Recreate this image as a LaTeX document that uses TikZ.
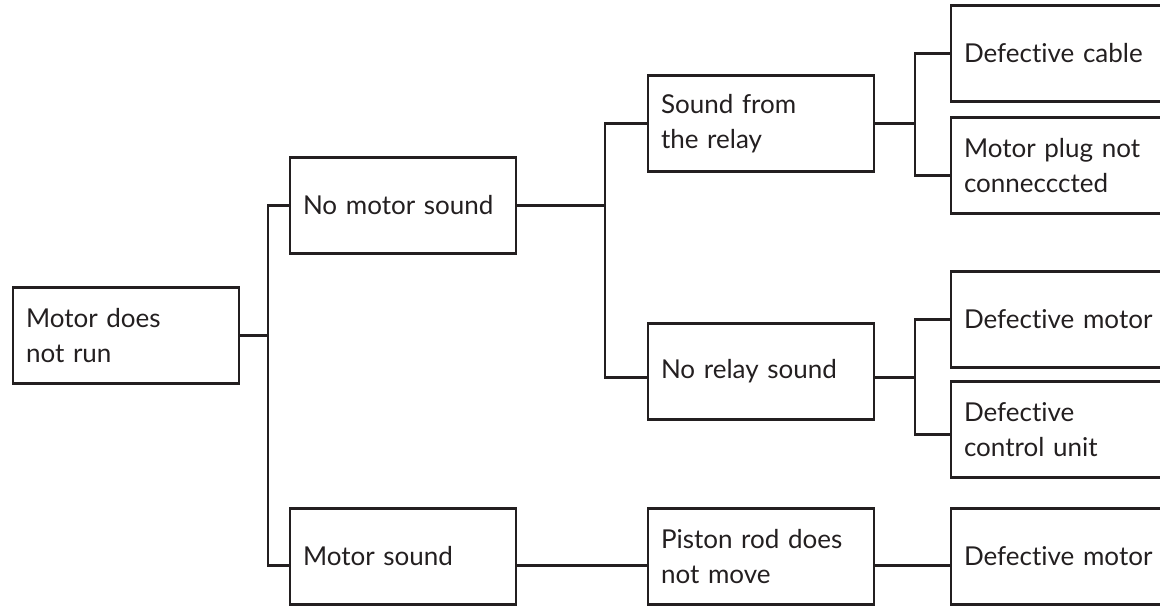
\documentclass[tikz,border=0pt]{standalone}
\usepackage{fontspec}
\setmainfont{Lato}[Ligatures=NoCommon]
\usepackage{tikz}
\usetikzlibrary{positioning}

\definecolor{ink}{HTML}{231F20}

\begin{document}
\begin{tikzpicture}[
	x = 0.5pt, y = -0.5pt, % one unit = one pixel of the sketch
	line width = 1.2pt, % line style
	color = ink,
	font = \fontsize{13}{17.5}\selectfont
	]
	
	\tikzstyle{fault}=[
	draw = ink,
	rectangle,
	text width = 100pt,
	inner xsep = 6.5pt,
	outer sep = 0pt,
	minimum height = 48pt,
	align = left
	]
	
	\useasboundingbox (0,0) rectangle (1160,608);
	
	% columns of the tree
	\node[fault] (run) at (126,335.5) {Motor does\\not run};
	
	\node[fault] (nomotor) at (403,205.5) {No motor sound};
	\node[fault] (sound) [below=127.5pt of nomotor] {Motor sound};
	
	\node[fault] (relay) at (761,123.5) {Sound from\\the relay};
	\node[fault] (norelay) [below=76pt of relay] {No relay sound};
	\node[fault] (piston) [right=66pt of sound] {Piston rod does\\not move};
	
	\node[fault] (cable) at (1064,53.5) {Defective cable};
	\node[fault] (plug) [below=8pt of cable] {Motor plug not\\connecccted};
	\node[fault] (motorA) at (1064,319.5) {Defective motor};
	\node[fault] (unit) [below=7pt of motorA] {Defective\\control unit};
	\node[fault] (motorB) [right=38.5pt of piston] {Defective motor};
	
	% vertical bus lines
	\coordinate (bus1) at (268,0);
	\coordinate (bus2) at (605,0);
	\coordinate (bus3) at (915,0);
	
	% connector ends that sit below the box middle
	\coordinate (sound-in) at ([yshift=-4.5pt]sound.west);
	\coordinate (sound-out) at ([yshift=-4.5pt]sound.east);
	\coordinate (piston-in) at ([yshift=-4.5pt]piston.west);
	\coordinate (piston-out) at ([yshift=-4.5pt]piston.east);
	\coordinate (motorB-in) at ([yshift=-4.5pt]motorB.west);
	\coordinate (norelay-in) at ([yshift=-3pt]norelay.west);
	\coordinate (norelay-out) at ([yshift=-3pt]norelay.east);
	\coordinate (plug-in) at ([yshift=-5pt]plug.west);
	\coordinate (unit-in) at ([yshift=-2.5pt]unit.west);
	
	\draw (run.east) -- (bus1 |- run.east);
	\draw (nomotor.west) -- (bus1 |- nomotor.west) -- (bus1 |- sound-in) -- (sound-in);
	
	\draw (nomotor.east) -- (bus2 |- nomotor.east);
	\draw (relay.west) -- (bus2 |- relay.west) -- (bus2 |- norelay-in) -- (norelay-in);
	\draw (sound-out) -- (piston-in);
	
	\draw (relay.east) -- (bus3 |- relay.east);
	\draw (cable.west) -- (bus3 |- cable.west) -- (bus3 |- plug-in) -- (plug-in);
	\draw (norelay-out) -- (bus3 |- norelay-out);
	\draw (motorA.west) -- (bus3 |- motorA.west) -- (bus3 |- unit-in) -- (unit-in);
	\draw (piston-out) -- (motorB-in);
	
\end{tikzpicture}
\end{document}
